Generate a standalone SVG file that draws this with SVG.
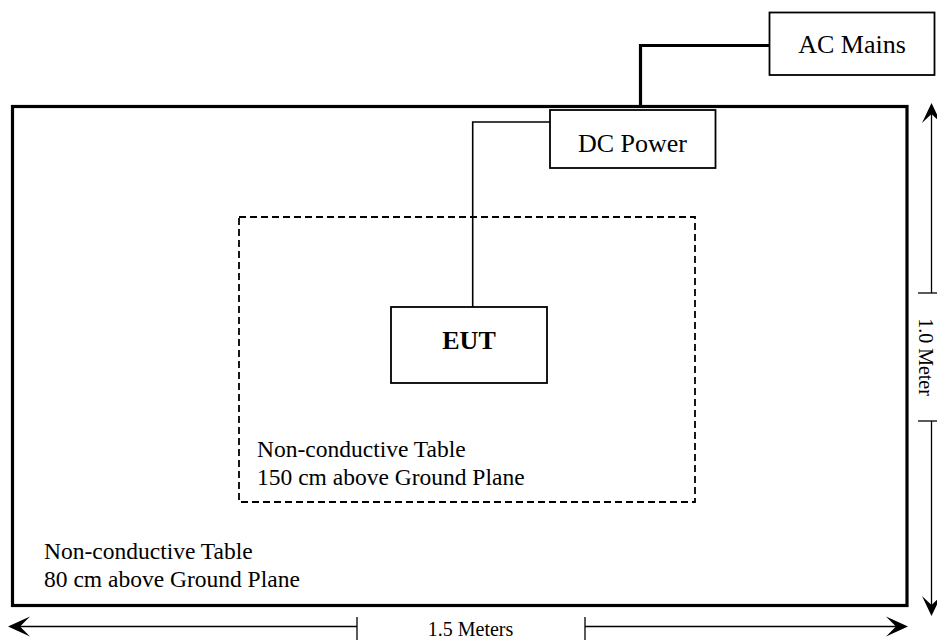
<svg xmlns="http://www.w3.org/2000/svg" width="937" height="640" viewBox="0 0 937 640">
<style>
text{font-family:"Liberation Serif","Times New Roman",serif;fill:#000}
.box{fill:#fff;stroke:#000;stroke-width:1.8}
.lbl{font-size:26px;text-anchor:middle}
.tbl{font-size:23.5px}
.dim{stroke:#000;stroke-width:1.3;fill:none}
.head{fill:#000;stroke:none}
</style>
<rect width="937" height="640" fill="#fff"/>
<g id="ground-table">
<rect x="12.5" y="106.5" width="894.5" height="499" fill="none" stroke="#000" stroke-width="3.2"/>
<text class="tbl" x="44" y="559">Non-conductive Table</text>
<text class="tbl" x="44" y="587">80 cm above Ground Plane</text>
</g>
<g id="upper-table">
<rect x="239" y="217" width="456" height="285" fill="none" stroke="#000" stroke-width="1.8" stroke-dasharray="7,4"/>
<text class="tbl" x="257" y="457">Non-conductive Table</text>
<text class="tbl" x="257" y="485">150 cm above Ground Plane</text>
</g>
<g id="connectors">
<polyline points="769,45.5 640.5,45.5 640.5,106" fill="none" stroke="#000" stroke-width="3.2"/>
<polyline points="550,122 472.7,122 472.7,307" fill="none" stroke="#000" stroke-width="1.6"/>
</g>
<g id="ac-mains">
<rect class="box" x="769.5" y="12.5" width="165" height="62.5"/>
<text class="lbl" x="852" y="53">AC Mains</text>
</g>
<g id="dc-power">
<rect class="box" x="550" y="110" width="165.5" height="58"/>
<text class="lbl" x="632.5" y="152">DC Power</text>
</g>
<g id="eut">
<rect class="box" x="391" y="307" width="156" height="76"/>
<text class="lbl" x="469" y="349" font-weight="bold">EUT</text>
</g>
<g id="dimensions">
<line class="dim" x1="12" y1="626.5" x2="357" y2="626.5"/>
<line class="dim" x1="585" y1="626.5" x2="902" y2="626.5"/>
<line class="dim" x1="357" y1="617" x2="357" y2="640"/>
<line class="dim" x1="585" y1="617" x2="585" y2="640"/>
<path class="head" d="M8,626.5 L30,616.5 L20,626.5 L30,636.5 Z"/>
<path class="head" d="M908,626.5 L886,616.5 L896,626.5 L886,636.5 Z"/>
<text x="470.5" y="636" font-size="20" text-anchor="middle">1.5 Meters</text>
<line class="dim" x1="931.5" y1="110" x2="931.5" y2="293"/>
<line class="dim" x1="931.5" y1="421" x2="931.5" y2="608"/>
<line class="dim" x1="918" y1="293" x2="940" y2="293"/>
<line class="dim" x1="918" y1="421" x2="940" y2="421"/>
<path class="head" d="M931.5,103 L922,123 L931.5,114 L941,123 Z"/>
<path class="head" d="M931.5,616 L922,596 L931.5,605 L941,596 Z"/>
<text transform="translate(919,357) rotate(90)" font-size="20" text-anchor="middle">1.0 Meter</text>
</g>
</svg>
